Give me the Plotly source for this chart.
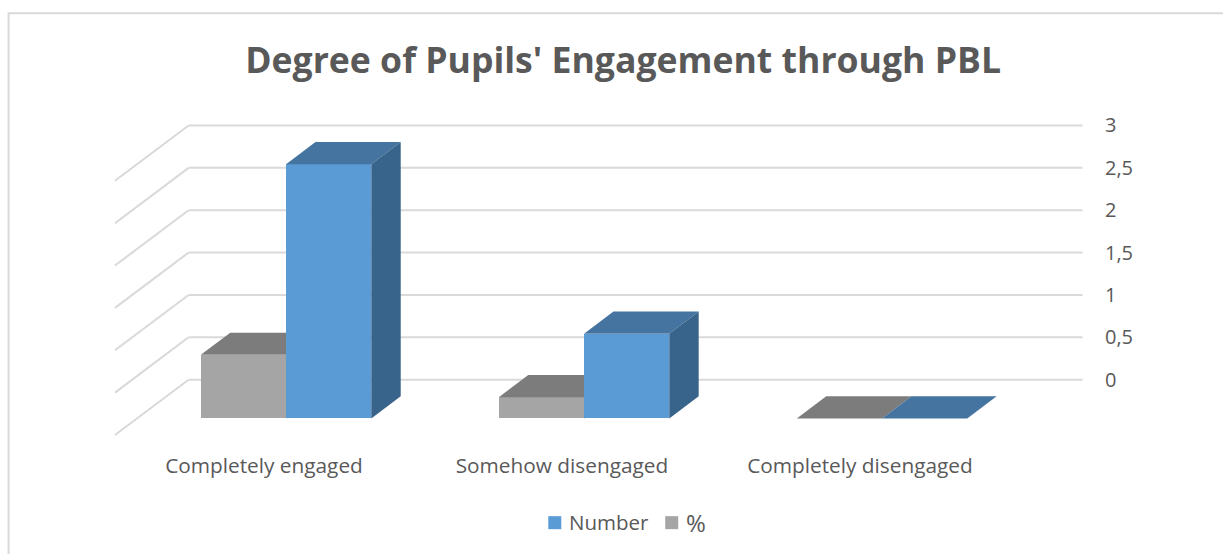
import plotly.graph_objects as go

# Chart data
categories = ["Completely engaged", "Somehow disengaged", "Completely disengaged"]
number_values = [3, 1, 0]
percent_values = [0.75, 0.25, 0]
value_ticks = [0, 0.5, 1, 1.5, 2, 2.5, 3]
value_tick_labels = ["0", "0,5", "1", "1,5", "2", "2,5", "3"]

# Palette
BLUE, BLUE_TOP, BLUE_SIDE = "#5B9BD5", "#44749F", "#38638A"
GRAY, GRAY_TOP, GRAY_SIDE = "#A5A5A5", "#7C7C7C", "#636363"
GRID = "#D9D9D9"
TEXT = "#595959"
FONT = "Open Sans"

# Oblique projection: a point at depth d (0 = back wall, 1 = front of floor)
# is shifted left and down by d times these amounts, in axis units.
DEPTH_X = 0.247
DEPTH_Y = 0.653
BAR_WIDTH = 0.286
BAR_FRONT = 0.7
BAR_BACK = 0.3

X_RANGE = [-0.51, 2.752]
Y_RANGE = [-0.7, 3.1]


def project(x, y, d):
    return x + DEPTH_X * (1 - d), y - DEPTH_Y * d


def polygon(points, color, xaxis, yaxis):
    xs, ys = zip(*points)
    return go.Scatter(
        x=list(xs) + [xs[0]], y=list(ys) + [ys[0]], mode="lines", fill="toself",
        fillcolor=color, line=dict(width=0), showlegend=False, hoverinfo="skip",
        xaxis=xaxis, yaxis=yaxis,
    )


def add_series(fig, name, values, side, colors, xaxis, yaxis):
    """One front face as a real bar, plus its top and side faces."""
    face, top, right = colors
    # x of the left edge of each bar, in the front plane's category coordinates
    lefts = [i - BAR_WIDTH if side < 0 else i for i in range(len(values))]
    shift = DEPTH_X * (1 - BAR_FRONT)
    fig.add_trace(go.Bar(
        name=name, x=[l + BAR_WIDTH / 2 + shift for l in lefts], y=values,
        base=[-DEPTH_Y * BAR_FRONT] * len(values), width=BAR_WIDTH,
        marker=dict(color=face, line=dict(width=0)), xaxis=xaxis, yaxis=yaxis,
        showlegend=False,
    ))
    for left, v in zip(lefts, values):
        x0, x1 = left, left + BAR_WIDTH
        fig.add_trace(polygon(
            [project(x0, v, BAR_FRONT), project(x1, v, BAR_FRONT),
             project(x1, v, BAR_BACK), project(x0, v, BAR_BACK)],
            top, xaxis, yaxis))
        if v > 0:
            fig.add_trace(polygon(
                [project(x1, 0, BAR_FRONT), project(x1, v, BAR_FRONT),
                 project(x1, v, BAR_BACK), project(x1, 0, BAR_BACK)],
                right, xaxis, yaxis))


fig = go.Figure()

# The overlaid axes keep blue faces above gray ones.
add_series(fig, "Number", number_values, 1, (BLUE, BLUE_TOP, BLUE_SIDE), "x2", "y2")
add_series(fig, "%", percent_values, -1, (GRAY, GRAY_TOP, GRAY_SIDE), "x", "y")

# Wall gridlines with their diagonal continuation across the side wall
shapes = []
for v in value_ticks:
    corner_x, corner_y = project(-0.5, v, 0)
    front_x, front_y = project(-0.5, v, 1)
    shapes.append(dict(type="line", xref="x", yref="y", layer="below",
                       x0=front_x, y0=front_y, x1=corner_x, y1=corner_y,
                       line=dict(color=GRID, width=2)))
    shapes.append(dict(type="line", xref="x", yref="y", layer="below",
                       x0=corner_x, y0=corner_y, x1=project(2.5, v, 0)[0], y1=corner_y,
                       line=dict(color=GRID, width=2)))

# Chart frame, open past the right and bottom of the page
W, H = 1223, 554
M_L, M_R, M_T, M_B = 111.5, 139, 116.7, 115.2


def px_x(px):
    return (px - M_L) / (W - M_L - M_R)


def px_y(py):
    return (H - M_B - py) / (H - M_T - M_B)


shapes.append(dict(type="rect", xref="paper", yref="paper", layer="below",
                   x0=px_x(8), x1=1.2, y0=-0.5, y1=px_y(13),
                   line=dict(color=GRID, width=2), fillcolor="rgba(0,0,0,0)"))

# Legend row: colour swatches with their series names
annotations = []
for swatch_left, text_left, label, size, color in [
    (548, 567, "Number", 20.5, BLUE),
    (665, 684, "%", 24, GRAY),
]:
    shapes.append(dict(type="rect", xref="paper", yref="paper",
                       x0=px_x(swatch_left), x1=px_x(swatch_left + 13),
                       y0=px_y(529), y1=px_y(516),
                       line=dict(width=0), fillcolor=color))
    annotations.append(dict(text=label, xref="paper", yref="paper", showarrow=False,
                            x=px_x(text_left), y=px_y(522), xanchor="left", yanchor="middle",
                            font=dict(family=FONT, size=size, color=TEXT)))

fig.update_layout(
    width=W, height=H, autosize=False,
    margin=dict(l=M_L, r=M_R, t=M_T, b=M_B, pad=0),
    paper_bgcolor="white", plot_bgcolor="white",
    barmode="overlay", bargap=0, showlegend=False,
    font=dict(family=FONT, color=TEXT, size=20),
    title=dict(text="<b>Degree of Pupils' Engagement through PBL</b>",
               font=dict(family=FONT, size=35.6, color=TEXT),
               x=0.5095, xanchor="center", y=0.89, yanchor="middle"),
    xaxis=dict(range=X_RANGE, tickmode="array", tickvals=list(range(len(categories))),
               ticktext=categories, showgrid=False, zeroline=False, showline=False,
               ticks="", ticklabelstandoff=12, tickfont=dict(family=FONT, size=20.8, color=TEXT)),
    yaxis=dict(range=Y_RANGE, side="right", tickmode="array", tickvals=value_ticks,
               ticktext=value_tick_labels, showgrid=False, zeroline=False, showline=False,
               ticks="", ticklabelstandoff=20, tickfont=dict(family=FONT, size=20, color=TEXT)),
    xaxis2=dict(range=X_RANGE, overlaying="x", visible=False),
    yaxis2=dict(range=Y_RANGE, overlaying="y", visible=False),
    shapes=shapes,
    annotations=annotations,
    hovermode=False,
)

fig.write_html("out.html", config=dict(displayModeBar=False))
